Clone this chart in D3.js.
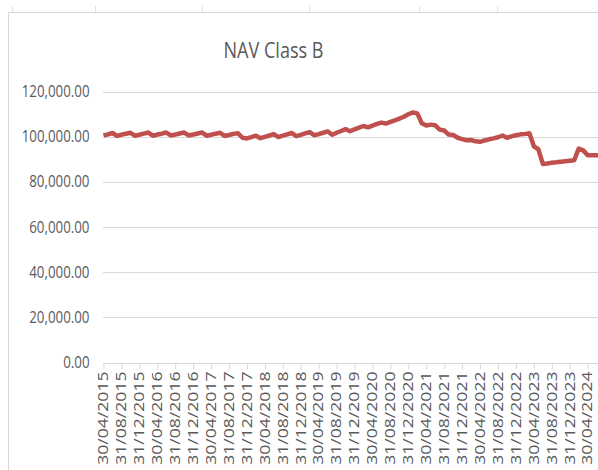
<!DOCTYPE html>
<html>
<head>
<meta charset="utf-8">
<script src="https://cdn.jsdelivr.net/npm/d3@7"></script>
<style>
  body { margin: 0; background: #fff; }
  svg { display: block; }
  text { font-family: "Open Sans", sans-serif; fill: #595959; }
</style>
</head>
<body>
<div id="chart"></div>
<script>
const width = 598;
const height = 470;

// NAV at each month end, starting 30/04/2015
const firstMonth = new Date(2015, 3, 1);
const navValues = [
  100600, 101100, 101700, 100400, 100900, 101400, 101800, 100500,
  100900, 101400, 101900, 100500, 101000, 101400, 101900, 100600,
  101000, 101500, 101900, 100600, 101000, 101500, 101900, 100500,
  100900, 101400, 101800, 100400, 100800, 101300, 101600, 99600,
  99300, 99900, 100500, 99400, 100000, 100600, 101200, 99900,
  100500, 101100, 101700, 100300, 100900, 101500, 102100, 100700,
  101200, 101800, 102400, 100900, 101800, 102600, 103400, 102500,
  103300, 104100, 104800, 104200, 105000, 105700, 106300, 105900,
  106600, 107300, 108100, 108900, 110000, 110800, 110400, 106000,
  105000, 105400, 105100, 103200, 102800, 101000, 100800, 99600,
  99000, 98500, 98600, 98000, 97800, 98400, 98900, 99300,
  99800, 100600, 99600, 100200, 100700, 101100, 101200, 101600,
  95800, 94500, 88000, 88200, 88500, 88700, 89000, 89200,
  89400, 89600, 94800, 94000, 91800, 91800, 91800, 91800
];

const xTickLabels = [
  '30/04/2015', '31/08/2015', '31/12/2015', '30/04/2016', '31/08/2016', '31/12/2016',
  '30/04/2017', '31/08/2017', '31/12/2017', '30/04/2018', '31/08/2018', '31/12/2018',
  '30/04/2019', '31/08/2019', '31/12/2019', '30/04/2020', '31/08/2020', '31/12/2020',
  '30/04/2021', '31/08/2021', '31/12/2021', '30/04/2022', '31/08/2022', '31/12/2022',
  '30/04/2023', '31/08/2023', '31/12/2023', '30/04/2024'
];
const yTicks = [0, 20000, 40000, 60000, 80000, 100000, 120000];
const title = 'NAV Class B';

// month-end category names
const fmt = d3.timeFormat('%d/%m/%Y');
const categories = navValues.map((v, i) => fmt(d3.timeDay.offset(d3.timeMonth.offset(firstMonth, i + 1), -1)));
const data = navValues.map((v, i) => ({cat: categories[i], nav: v}));

const plotLeft = 103.5;
const step = 4.483;
const squeeze = 0.86;   // the reference text is narrow

const svg = d3.select('#chart')
  .append('svg')
  .attr('width', width)
  .attr('height', height);

// chart frame and the sheet cell lines peeking behind it
svg.selectAll('.cell-mark')
  .data([12, 95, 202, 309, 419, 497])
  .enter()
  .append('line')
  .attr('x1', d => d + 0.5).attr('x2', d => d + 0.5)
  .attr('y1', 6).attr('y2', 12)
  .attr('stroke', '#e3e3e3');
svg.append('rect')
  .attr('x', 8.5).attr('y', 12.5)
  .attr('width', width + 20).attr('height', height + 20)
  .attr('fill', '#fff')
  .attr('stroke', '#d9d9d9');

const xscale = d3.scalePoint()
  .domain(categories)
  .range([plotLeft, plotLeft + step * (categories.length - 1)]);
const yscale = d3.scaleLinear().domain([0, 120000]).range([362.5, 91.7]);

// gridlines
svg.selectAll('.grid')
  .data(yTicks.slice(1))
  .enter()
  .append('line')
  .attr('class', 'grid')
  .attr('x1', plotLeft - 0.5)
  .attr('x2', width)
  .attr('y1', d => Math.round(yscale(d)) + 0.5)
  .attr('y2', d => Math.round(yscale(d)) + 0.5)
  .attr('stroke', '#d9d9d9');

// y labels
const yFormat = d3.format(',.2f');
svg.selectAll('.ylab')
  .data(yTicks)
  .enter()
  .append('text')
  .attr('class', 'ylab')
  .attr('transform', d => `translate(89.5, ${yscale(d)}) scale(${squeeze}, 1)`)
  .attr('text-anchor', 'end')
  .attr('dy', '0.35em')
  .style('font-size', '15.5px')
  .text(yFormat);

// x axis
const xaxis = d3.axisBottom(xscale)
  .tickValues(xTickLabels)
  .tickSize(6)
  .tickSizeOuter(0);
const gx = svg.append('g')
  .attr('transform', `translate(0, ${Math.round(yscale(0)) + 0.5})`)
  .call(xaxis);
gx.select('.domain').attr('stroke', '#d9d9d9').attr('d', `M${plotLeft - 0.5},0H${width}`);
gx.selectAll('.tick line').attr('stroke', '#d9d9d9');
gx.selectAll('.tick text')
  .attr('y', null).attr('x', null)
  .attr('dy', '0.35em')
  .attr('text-anchor', 'end')
  .attr('fill', '#595959')
  .attr('transform', `translate(-1, 8) scale(${squeeze}, 1) rotate(-90)`)
  .style('font-size', '17.6px')
  .style('font-family', '"Open Sans", sans-serif');

// NAV line
const line = d3.line()
  .x(d => xscale(d.cat))
  .y(d => yscale(d.nav));
svg.append('path')
  .datum(data)
  .attr('d', line)
  .attr('fill', 'none')
  .attr('stroke', '#c0504d')
  .attr('stroke-width', 4.5)
  .attr('stroke-linejoin', 'round');

// title
svg.append('text')
  .attr('transform', `translate(273.5, 58) scale(${squeeze}, 1)`)
  .attr('text-anchor', 'middle')
  .style('font-size', '21px')
  .text(title);
</script>
</body>
</html>
